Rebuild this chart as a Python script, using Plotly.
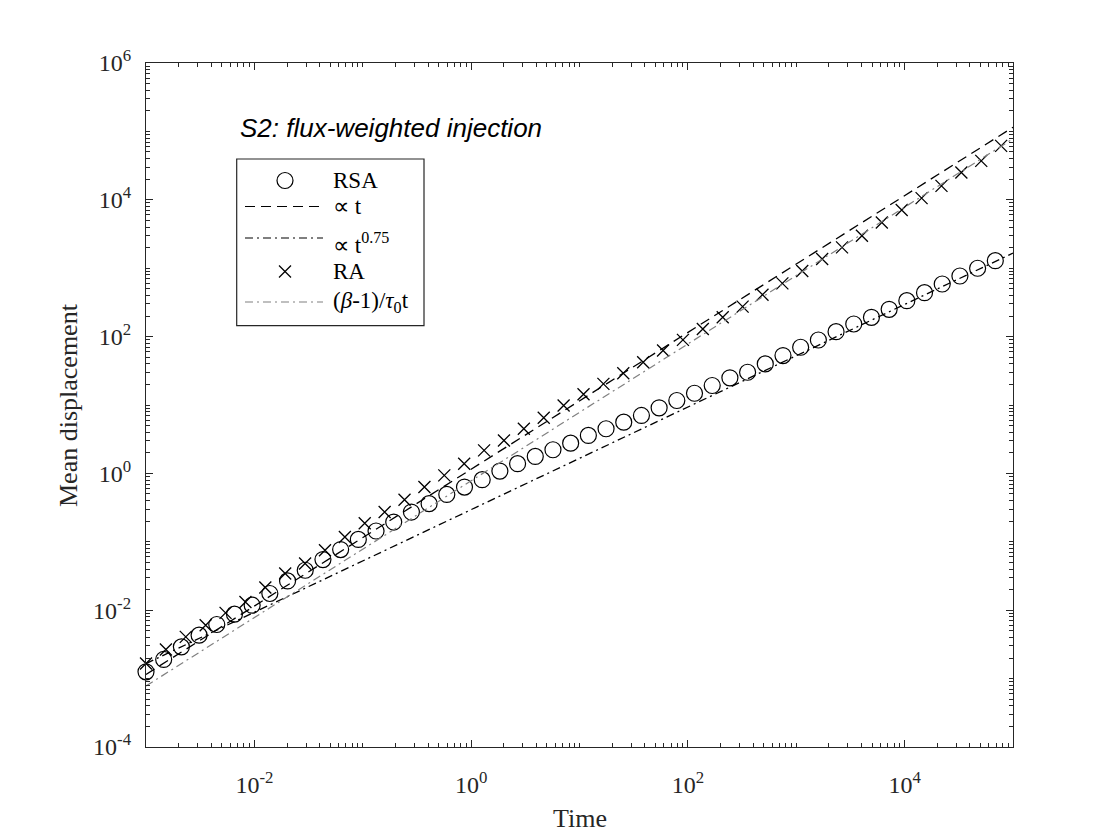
import plotly.graph_objects as go

# ---------------- data ----------------
t_rsa = [1.000e-3, 1.456e-3, 2.121e-3, 3.089e-3, 4.498e-3, 6.551e-3, 9.541e-3,
         1.389e-2, 2.024e-2, 2.947e-2, 4.292e-2, 6.251e-2, 9.103e-2, 0.1326,
         0.1931, 0.2812, 0.4095, 0.5964, 0.8685, 1.265, 1.842, 2.683, 3.907,
         5.690, 8.286, 12.07, 17.58, 25.60, 37.28, 54.29, 79.06, 115.1, 167.7,
         244.2, 355.6, 517.9, 754.3, 1098, 1600, 2330, 3393, 4942, 7197,
         1.048e4, 1.526e4, 2.223e4, 3.237e4, 4.715e4, 6.866e4]
rsa = [1.256e-3, 1.905e-3, 2.911e-3, 4.315e-3, 6.180e-3, 8.750e-3, 1.183e-2,
       1.754e-2, 2.679e-2, 3.837e-2, 5.495e-2, 7.691e-2, 0.1084, 0.1439,
       0.1945, 0.2723, 0.3614, 0.4932, 0.6310, 0.8091, 1.081, 1.387, 1.770,
       2.218, 2.767, 3.589, 4.498, 5.610, 7.031, 9.099, 11.64, 14.86, 19.28,
       24.95, 30.13, 39.90, 52.84, 69.82, 89.13, 118.0, 152.8, 191.4, 250.6,
       335.0, 438.5, 587.5, 769.1, 997.7, 1288]

t_ra = [1.000e-3, 1.526e-3, 2.328e-3, 3.553e-3, 5.420e-3, 8.272e-3, 1.262e-2,
        1.925e-2, 2.938e-2, 4.482e-2, 6.839e-2, 0.1043, 0.1592, 0.2429,
        0.3707, 0.5655, 0.8630, 1.317, 2.009, 3.065, 4.677, 7.137, 10.89,
        16.62, 25.35, 38.68, 59.02, 90.05, 137.4, 209.7, 319.9, 488.1, 744.7,
        1136, 1734, 2645, 4036, 6159, 9397, 1.434e4, 2.188e4, 3.338e4,
        5.093e4, 7.771e4]
ra = [1.667e-3, 2.667e-3, 4.074e-3, 6.039e-3, 9.141e-3, 1.321e-2, 2.143e-2,
      3.436e-2, 4.808e-2, 7.516e-2, 0.1175, 0.1862, 0.2723, 0.4130, 0.6310,
      0.9354, 1.387, 2.168, 3.034, 4.498, 6.501, 9.840, 14.39, 20.37, 29.11,
      42.17, 62.52, 89.54, 129.4, 191.4, 274.2, 410.2, 599.8, 909.9, 1361,
      2014, 2979, 4667, 7079, 1.059e4, 1.600e4, 2.506e4, 3.707e4, 6.138e4]

t_fit = [1e-3, 1e5]
fit_t = [1.15e-3, 1.15e5]          # ∝ t
fit_t075 = [1.66e-3, 1.66e3]       # ∝ t^0.75
fit_beta = [7.8e-4, 7.8e4]         # (β-1)/τ0 t

x_major = [1e-2, 1, 1e2, 1e4]
x_major_text = ["10<sup>-2</sup>", "10<sup>0</sup>", "10<sup>2</sup>", "10<sup>4</sup>"]
y_major = [1e-4, 1e-2, 1, 1e2, 1e4, 1e6]
y_major_text = ["10<sup>-4</sup>", "10<sup>-2</sup>", "10<sup>0</sup>",
                "10<sup>2</sup>", "10<sup>4</sup>", "10<sup>6</sup>"]

legend_names = ["RSA", "∝ t", "∝ t<sup>0.75</sup>", "RA",
                "(<i>β</i>-1)/<i>τ</i><sub>0</sub>t"]
title_text = "<i>S2: flux-weighted injection</i>"

# ---------------- layout helpers ----------------
W, H = 1120, 840
PAGE_OFF = 8  # default body margin of the html page
L_PX, R_PX, T_PX, B_PX = 146, 1013, 63, 747   # plot area in window pixels
AX = "#262626"
SERIF = "Liberation Serif"
SANS = "Liberation Sans"
DASH = "10px,6px"
DASHDOT = "8px,4px,2px,4px"
GRAY = "#808080"


def px(x, y):
    return (x - L_PX) / (R_PX - L_PX), (B_PX - y) / (B_PX - T_PX)


def minor_vals(lo, hi, majors):
    vals = []
    for k in range(lo, hi + 1):
        for n in range(1, 10):
            v = n * 10.0 ** k
            if v > 10.0 ** hi * 1.0000001:
                continue
            if not any(abs(v - m) / m < 1e-9 for m in majors):
                vals.append(v)
    return vals


fig = go.Figure()
fig.add_trace(go.Scatter(x=t_rsa, y=rsa, mode="markers", cliponaxis=False,
                         marker=dict(symbol="circle-open", size=16,
                                     color="black", line=dict(width=1.2, color="black")),
                         showlegend=False))
fig.add_trace(go.Scatter(x=t_fit, y=fit_t, mode="lines",
                         line=dict(color="black", width=1.3, dash=DASH), showlegend=False))
fig.add_trace(go.Scatter(x=t_fit, y=fit_t075, mode="lines",
                         line=dict(color="black", width=1.3, dash=DASHDOT), showlegend=False))
fig.add_trace(go.Scatter(x=t_ra, y=ra, mode="markers", cliponaxis=False,
                         marker=dict(symbol="x-thin-open", size=12,
                                     color="black", line=dict(width=1.3, color="black")),
                         showlegend=False))
fig.add_trace(go.Scatter(x=t_fit, y=fit_beta, mode="lines",
                         line=dict(color=GRAY, width=1.2, dash=DASHDOT), showlegend=False))

axis_common = dict(type="log", showgrid=False, zeroline=False, showline=True,
                   linecolor=AX, linewidth=1.3, mirror="allticks", ticks="inside",
                   ticklen=7, tickwidth=1.2, tickcolor=AX,
                   tickfont=dict(family=SERIF, size=24, color=AX))

fig.update_xaxes(range=[-3, 5], tickmode="array", tickvals=x_major,
                 ticktext=x_major_text, ticklabelstandoff=16,
                 minor=dict(tickmode="array", tickvals=minor_vals(-3, 5, x_major),
                            ticks="inside", ticklen=4, tickwidth=1.0, tickcolor=AX,
                            showgrid=False),
                 **axis_common)
fig.update_yaxes(range=[-4, 6], tickmode="array", tickvals=y_major,
                 ticktext=y_major_text, ticklabelstandoff=9,
                 minor=dict(tickmode="array", tickvals=minor_vals(-4, 6, y_major),
                            ticks="inside", ticklen=4, tickwidth=1.0, tickcolor=AX,
                            showgrid=False),
                 **axis_common)

shapes = []
annotations = []

# legend box
x0, y0 = px(236.7, 159)
x1, y1 = px(424, 325.7)
shapes.append(dict(type="rect", xref="paper", yref="paper", x0=x0, y0=y1, x1=x1, y1=y0,
                   line=dict(color=AX, width=1.2), fillcolor="white", layer="above"))

sample_x0, sample_x1, text_x, mark_x = 245, 323, 331, 285
legend_rows = [180.5, 206.5, 238.5, 271.5, 302.0]
line_rows = {1: ("black", DASH), 2: ("black", DASHDOT), 4: (GRAY, DASHDOT)}
for i, yy in enumerate(legend_rows):
    if i in line_rows:
        col, dsh = line_rows[i]
        ax0, ay = px(sample_x0, yy if i != 2 else 238.0)
        ax1, _ = px(sample_x1, yy)
        shapes.append(dict(type="line", xref="paper", yref="paper", x0=ax0, x1=ax1,
                           y0=ay, y1=ay, line=dict(color=col, width=1.2, dash=dsh)))
    elif i == 0:
        cx0, cy0 = px(mark_x - 8, yy - 8)
        cx1, cy1 = px(mark_x + 8, yy + 8)
        shapes.append(dict(type="circle", xref="paper", yref="paper", x0=cx0, x1=cx1,
                           y0=cy1, y1=cy0, line=dict(color="black", width=1.2)))
    else:
        for s in (1, -1):
            ax0, ay0 = px(mark_x - 6, yy - 6 * s)
            ax1, ay1 = px(mark_x + 6, yy + 6 * s)
            shapes.append(dict(type="line", xref="paper", yref="paper", x0=ax0, x1=ax1,
                               y0=ay0, y1=ay1, line=dict(color="black", width=1.3)))
    tx, ty = px(text_x, yy + (5 if i == 2 else 0))
    annotations.append(dict(text=legend_names[i], xref="paper", yref="paper", x=tx, y=ty,
                            xanchor="left", yanchor="middle", showarrow=False,
                            font=dict(family=SERIF, size=23, color="black")))

# in-plot title
tx, ty = px(238, 128)
annotations.append(dict(text=title_text, xref="paper", yref="paper", x=tx, y=ty,
                        xanchor="left", yanchor="middle", showarrow=False,
                        font=dict(family=SANS, size=26, color="black")))

# axis titles
tx, ty = px(579.5, 818)
annotations.append(dict(text="Time", xref="paper", yref="paper", x=tx, y=ty,
                        xanchor="center", yanchor="middle", showarrow=False,
                        font=dict(family=SERIF, size=26, color=AX)))
tx, ty = px(68, 405)
annotations.append(dict(text="Mean displacement", xref="paper", yref="paper", x=tx, y=ty,
                        xanchor="center", yanchor="middle", showarrow=False, textangle=-90,
                        font=dict(family=SERIF, size=26, color=AX)))

fig.update_layout(width=W, height=H, autosize=False,
                  margin=dict(l=L_PX - PAGE_OFF, r=W - R_PX + PAGE_OFF,
                              t=T_PX - PAGE_OFF, b=H - B_PX + PAGE_OFF, pad=0),
                  plot_bgcolor="white", paper_bgcolor="white",
                  shapes=shapes, annotations=annotations, showlegend=False)

fig.write_html("out.html")
